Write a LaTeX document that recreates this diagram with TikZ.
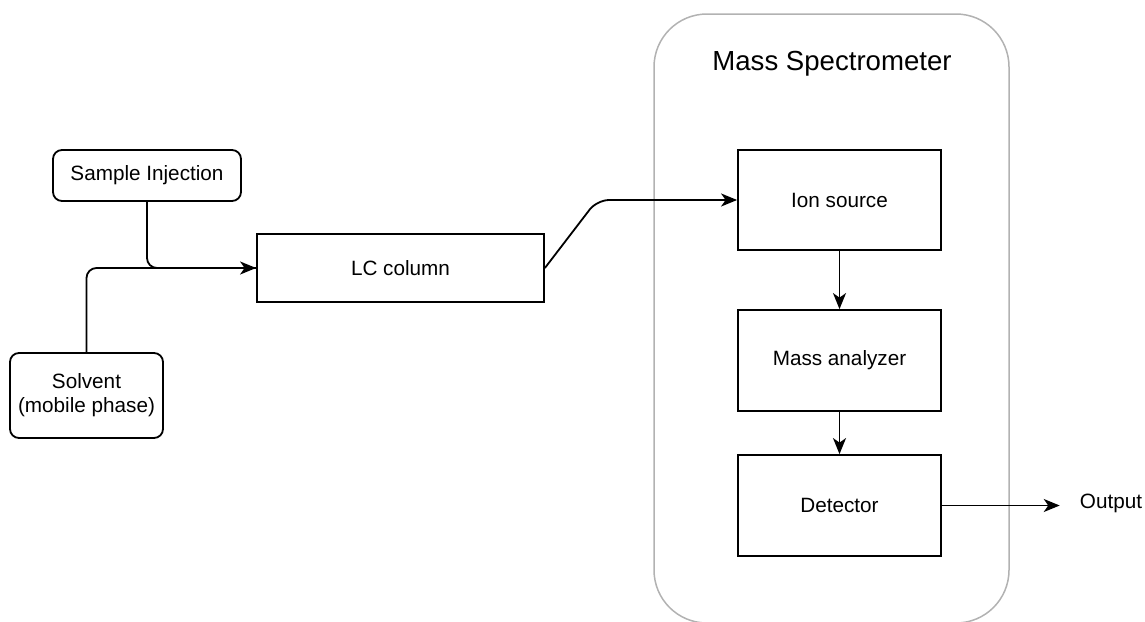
\documentclass[tikz,border=0pt]{standalone}
\usepackage{fontspec}
\setmainfont{Liberation Sans}
\usetikzlibrary{arrows.meta}
\begin{document}
\begin{tikzpicture}[x=1pt,y=-1pt,
  every node/.style={font=\fontsize{20.7}{24}\selectfont, align=center},
  proc/.style={draw=black, line width=1.8pt, minimum width=#1, inner sep=0pt},
  rbox/.style={draw=black, line width=1.8pt, rounded corners=9pt, inner sep=0pt},
  flow/.style={draw=black, line width=1.8pt, -{Stealth[length=16pt,width=13pt,inset=4.5pt]}},
  feedline/.style={draw=black, line width=1.8pt}]
\useasboundingbox (0,0) rectangle (1145,621);
\clip (0,0) rectangle (1145,621);

% Mass spectrometer enclosure
\draw[color=black!30, line width=1.5pt, rounded corners=53pt] (654,14) rectangle (1009,623);
\node (ms) at (832,64) {\fontsize{27.6}{32}\selectfont Mass Spectrometer};

% Liquid chromatography side
\node[rbox, minimum width=188pt, minimum height=51pt] (si) at (147,175.5) {Sample Injection};
\node[rbox, minimum width=153pt, minimum height=85pt] (sv) at (86.5,395.5) {Solvent\\(mobile phase)};
\node[proc=287pt, minimum height=68pt] (lc) at (400.5,268) {LC column};

% Mass spectrometer stages
\node[proc=203pt, minimum height=100pt] (ion) at (839.5,200) {Ion source};
\node[proc=203pt, minimum height=101pt] (ma) at (839.5,360.5) {Mass analyzer};
\node[proc=203pt, minimum height=101pt] (det) at (839.5,505.5) {Detector};
\node[inner sep=0pt] (out) at (1111,503) {Output};

% Connectors
\draw[feedline, rounded corners=10pt] (si.south) |- (lc.west);
\draw[flow, rounded corners=10pt] (sv.north) |- (lc.west);
\coordinate (bend) at (597,200);
\draw[flow, rounded corners=12pt] (lc.east) -- (bend) -- (ion.west);
\draw[flow] (ion.south) -- (ma.north);
\draw[flow] (ma.south) -- (det.north);
\draw[flow, shorten >=20pt] (det.east) -- (out.west |- det.east);
\end{tikzpicture}
\end{document}
